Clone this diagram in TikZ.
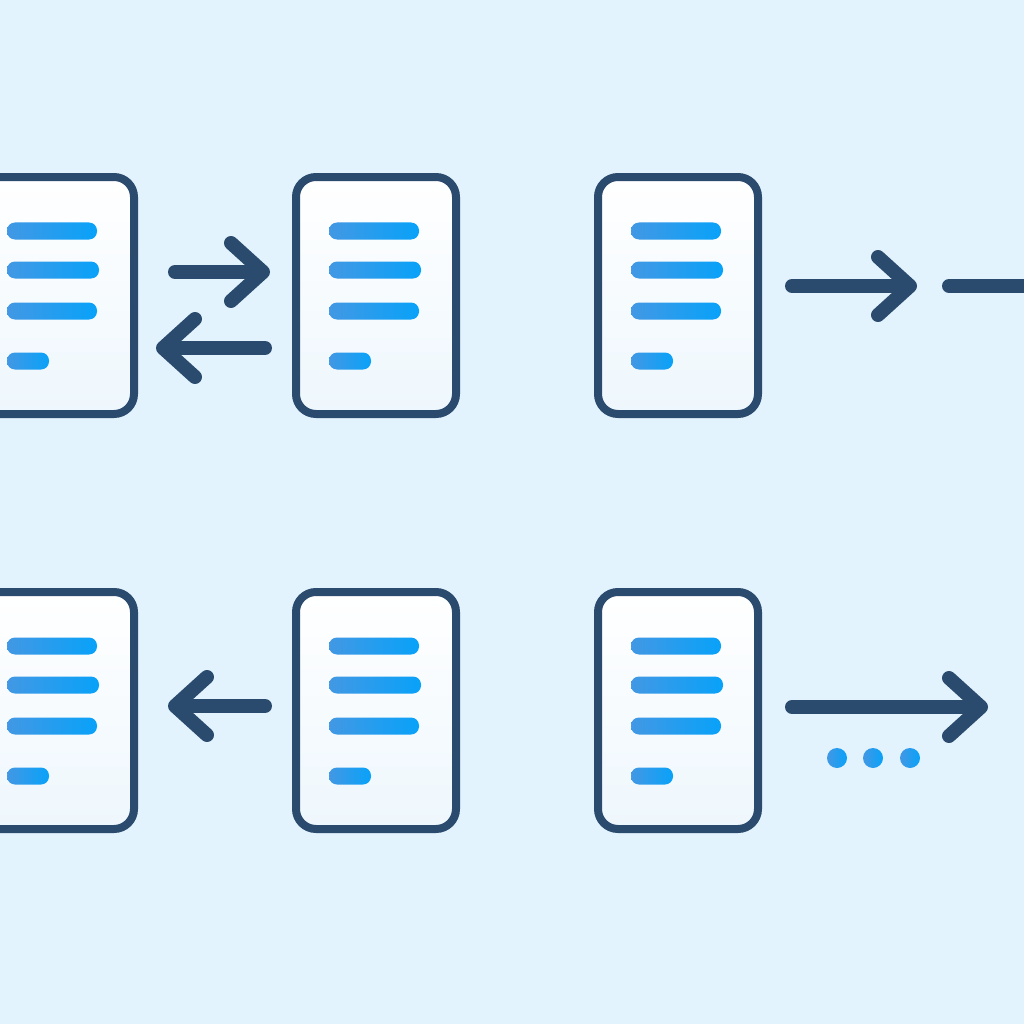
\documentclass[tikz,border=0pt]{standalone}
\usepackage{tikz}
\usetikzlibrary{arrows.meta, positioning}
\definecolor{bgblue}{RGB}{227,243,253}
\definecolor{navy}{RGB}{42,74,110}
\definecolor{barleft}{RGB}{66,152,228}
\definecolor{barright}{RGB}{8,162,249}
\definecolor{docbottom}{RGB}{238,247,253}

\begin{document}
\begin{tikzpicture}[
    x=0.1mm, y=-0.1mm,
    doc/.style={
        rectangle, rounded corners=2mm, draw=navy, line width=0.8mm,
        top color=white, bottom color=docbottom,
        minimum width=16mm, minimum height=23.7mm, inner sep=0pt
    },
    bar/.style={left color=barleft, right color=barright, rounded corners=0.8mm},
    arrow/.style={draw=navy, line width=1.4mm, line cap=round,
        -{Straight Barb[length=3.2mm, width=5.8mm, round]}},
    link/.style={draw=navy, line width=1.4mm, line cap=round},
    dot/.style={left color=barleft, right color=barright}
]
\useasboundingbox (0,0) rectangle (1024,1024);
\clip (0,0) rectangle (1024,1024);
\fill[bgblue] (0,0) rectangle (1024,1024);

% documents
\node[doc] (docA1) at (54,295.5) {};
\node[doc, right=15.4mm of docA1] (docB1) {};
\node[doc, right=13.4mm of docB1] (docC1) {};
\node[doc, below=17mm of docA1] (docA2) {};
\node[doc, below=17mm of docB1] (docB2) {};
\node[doc, below=17mm of docC1] (docC2) {};

% text lines
\foreach \d in {docA1,docB1,docC1,docA2,docB2,docC2}
  \foreach \top/\len in {-73/90, -34/92, 7/90, 57/42}
    \shade[bar] ([shift={(-47,\top)}]\d.center) rectangle ++(\len,17);

% top row
\draw[arrow] ([shift={(37,-23.5)}]docA1.east) -- ([shift={(-22,-23.5)}]docB1.west);
\draw[arrow] ([shift={(-27,52.5)}]docB1.west) -- ([shift={(18,52.5)}]docA1.east);
\draw[arrow] ([shift={(30,-9.5)}]docC1.east) -- ([shift={(155,-9.5)}]docC1.east);
\coordinate (offR) at (1060,286);
\draw[link] ([shift={(187,-9.5)}]docC1.east) -- (offR);

% bottom row
\draw[arrow] ([shift={(-27,-4.5)}]docB2.west) -- ([shift={(30,-4.5)}]docA2.east);
\draw[arrow] ([shift={(30,-3.5)}]docC2.east) -- ([shift={(226,-3.5)}]docC2.east);
\foreach \dx in {75,111,148}
  \shade[dot] ([shift={(\dx,47.5)}]docC2.east) circle (1mm);
\end{tikzpicture}
\end{document}
